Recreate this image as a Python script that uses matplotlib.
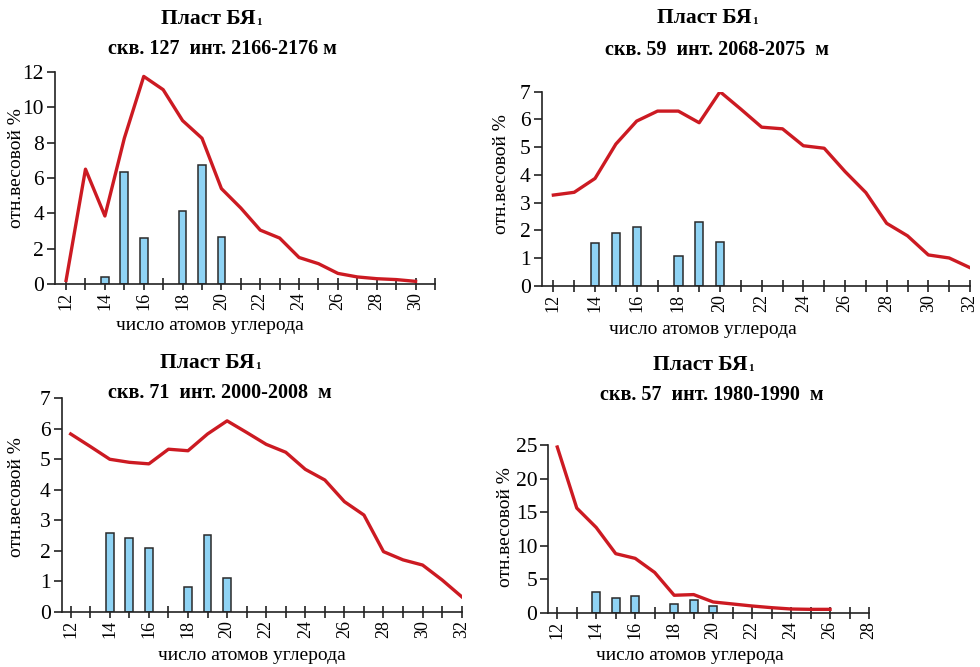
import numpy as np
import matplotlib
matplotlib.use("Agg")
import matplotlib.pyplot as plt
from matplotlib.ticker import MultipleLocator

plt.rcParams['font.family'] = ['Liberation Serif', 'DejaVu Serif']

#%%

# Well 127 (top left)
c127 = np.arange(12, 31)
line127 = [0.2, 6.5, 3.85, 8.25, 11.75, 11.0, 9.25, 8.25, 5.4, 4.3, 3.05,
           2.6, 1.5, 1.15, 0.6, 0.4, 0.3, 0.25, 0.15]
barX127 = [14, 15, 16, 18, 19, 20]
bar127 = [0.42, 6.35, 2.63, 4.12, 6.73, 2.65]

# Well 59 (top right)
c59 = np.arange(12, 33)
line59 = [3.27, 3.37, 3.87, 5.11, 5.94, 6.3, 6.3, 5.88, 7.0, 6.37, 5.72,
          5.66, 5.05, 4.96, 4.12, 3.36, 2.25, 1.8, 1.11, 1.0, 0.65]
barX59 = [14, 15, 16, 18, 19, 20]
bar59 = [1.55, 1.89, 2.1, 1.08, 2.29, 1.59]

# Well 71 (bottom left)
c71 = np.arange(12, 33)
line71 = [5.83, 5.42, 5.0, 4.9, 4.85, 5.33, 5.28, 5.83, 6.26, 5.88, 5.49,
          5.23, 4.67, 4.32, 3.61, 3.17, 1.97, 1.7, 1.53, 1.04, 0.49]
barX71 = [14, 15, 16, 18, 19, 20]
bar71 = [2.59, 2.43, 2.09, 0.8, 2.5, 1.1]

# Well 57 (bottom right)
c57 = np.arange(12, 27)
line57 = [24.7, 15.6, 12.7, 8.8, 8.1, 6.0, 2.6, 2.7, 1.6, 1.3, 1.0,
          0.75, 0.55, 0.5, 0.5]
barX57 = [14, 15, 16, 18, 19, 20]
bar57 = [3.03, 2.14, 2.53, 1.29, 1.89, 1.0]

#%%

W, H = 980, 667
lineColor = '#cc1a22'
barColor = '#8fd3f4'
xLabel = u"число атомов углерода"
yLabel = u"отн.весовой %"
plast = u"Пласт БЯ"

fig = plt.figure(figsize=(W / 100, H / 100), dpi=100)
plastTexts = []


def panel(box, xlim, ylim, ystep, x, y, bx, by, title, tpos, xlpos, ylpos):
    # box = (left, top, right, bottom) in pixels
    l, t, r, b = box
    ax = fig.add_axes([l / W, 1 - b / H, (r - l) / W, (b - t) / H])
    ax.bar(bx, by, width=0.4, color=barColor, edgecolor='#2a2a2a', lw=1.1,
           zorder=2)
    ax.plot(x, y, color=lineColor, lw=2.4, zorder=3, solid_joinstyle='round')
    ax.set_xlim(*xlim)
    ax.set_ylim(*ylim)
    for s in ['top', 'right']:
        ax.spines[s].set_visible(False)
    for s in ['left', 'bottom']:
        ax.spines[s].set_linewidth(1.2)
        ax.spines[s].set_color('#222222')
    ax.set_xticks(np.arange(12, int(xlim[1]) + 1, 2))
    ax.xaxis.set_minor_locator(MultipleLocator(1))
    ax.yaxis.set_major_locator(MultipleLocator(ystep))
    ax.tick_params(axis='x', which='both', direction='inout', length=8,
                   width=1.2, color='#222222', labelsize=13, labelrotation=90,
                   pad=2)
    ax.tick_params(axis='y', which='major', direction='out', length=6,
                   width=1.2, color='#222222', labelsize=15.5, pad=2)
    ax.set_xlabel(xLabel, fontsize=14)
    ax.xaxis.set_label_coords((xlpos[0] - l) / (r - l), (b - xlpos[1]) / (b - t))
    ax.xaxis.label.set_va('center')
    ax.set_ylabel(yLabel, fontsize=14)
    ax.yaxis.set_label_coords((ylpos[0] - l) / (r - l), (b - ylpos[1]) / (b - t))
    ax.yaxis.label.set_va('center')
    plastTexts.append(fig.text(tpos[0] / W, 1 - tpos[1] / H, plast,
                               ha='center', va='center', fontsize=15.5,
                               fontweight='bold'))
    fig.text(tpos[2] / W, 1 - tpos[3] / H, title, ha='center', va='center',
             fontsize=14.5, fontweight='bold')
    return ax


panel((55, 72, 435, 284), (11.43, 31), (0, 12), 2, c127, line127,
      barX127, bar127, u"скв. 127  инт. 2166-2176 м", (208, 19, 222, 49),
      (210, 325), (17, 168))
panel((541.7, 91.7, 970, 285.7), (11.44, 32), (0, 7), 1, c59, line59,
      barX59, bar59, u"скв. 59  инт. 2068-2075  м", (704, 18, 717, 50),
      (703, 330), (502, 174))
panel((61.7, 398.3, 461.7, 611.7), (11.54, 32), (0, 7), 1, c71, line71,
      barX71, bar71, u"скв. 71  инт. 2000-2008  м", (207, 363, 220, 393),
      (252, 655), (17, 497))
panel((548.3, 445, 869, 612.7), (11.54, 28), (0, 25), 5, c57, line57,
      barX57, bar57, u"скв. 57  инт. 1980-1990  м", (700, 365, 712, 395),
      (690, 655), (505, 527))

# small subscript "1" after each "Пласт БЯ"
fig.canvas.draw()
renderer = fig.canvas.get_renderer()
for txt in plastTexts:
    bb = txt.get_window_extent(renderer)
    fig.text((bb.x1 + 1) / W, (bb.y0 + 2) / H, "1", ha='left', va='bottom',
             fontsize=8, fontweight='bold')

plt.savefig("out.png", dpi=100)
